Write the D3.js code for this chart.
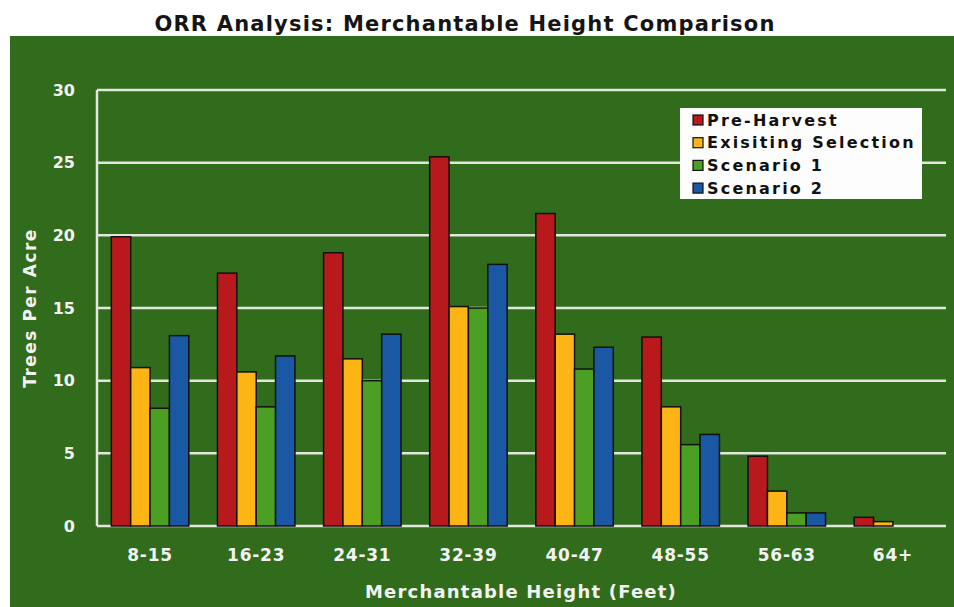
<!DOCTYPE html>
<html><head><meta charset="utf-8">
<script src="https://cdn.jsdelivr.net/npm/d3@7"></script>
<style>html,body{margin:0;padding:0;background:#fff;}svg{display:block;}</style>
</head><body>
<svg id="chart" width="954" height="607"></svg>
<script>
const categories = ["8-15","16-23","24-31","32-39","40-47","48-55","56-63","64+"];
const seriesNames = ["Pre-Harvest","Exisiting Selection","Scenario 1","Scenario 2"];
const preHarvest = [19.9, 17.4, 18.8, 25.4, 21.5, 13.0, 4.8, 0.6];
const existingSelection = [10.9, 10.6, 11.5, 15.1, 13.2, 8.2, 2.4, 0.3];
const scenario1 = [8.1, 8.2, 10.0, 15.0, 10.8, 5.6, 0.9, 0];
const scenario2 = [13.1, 11.7, 13.2, 18.0, 12.3, 6.3, 0.9, 0];
const yTicks = [0,5,10,15,20,25,30];
const colors = ["#b8191c","#fdb515","#4b9f22","#1a58a3"];

const series = [preHarvest, existingSelection, scenario1, scenario2];
const svg = d3.select("#chart");
const W = 954, H = 607;
const mLeft = 97, mRight = 946, mTop = 90, mBottom = 526;

// background
svg.append("rect").attr("x",0).attr("y",0).attr("width",W).attr("height",H).attr("fill","#fff");
svg.append("rect").attr("x",10).attr("y",36).attr("width",W-10).attr("height",H-36).attr("fill","#306c1c");

// title
svg.append("text").attr("x",465).attr("y",31).attr("text-anchor","middle")
  .attr("font-family","'DejaVu Sans', sans-serif").attr("font-size",21).attr("font-weight","bold")
  .attr("fill","#151515").attr("letter-spacing","1.2").text("ORR Analysis: Merchantable Height Comparison");

const x0 = d3.scaleBand().domain(categories).range([mLeft,mRight]).paddingInner(0.27).paddingOuter(0.135);
const x1 = d3.scaleBand().domain(d3.range(4)).range([0,x0.bandwidth()]);
const y = d3.scaleLinear().domain([0,30]).range([mBottom,mTop]);

// gridlines
svg.append("g").selectAll("line").data(yTicks).join("line")
  .attr("x1",mLeft).attr("x2",mRight).attr("y1",d=>y(d)).attr("y2",d=>y(d))
  .attr("stroke","#e2e6dc").attr("stroke-width",2.5);
// y axis line
svg.append("line").attr("x1",mLeft).attr("x2",mLeft).attr("y1",y(30)).attr("y2",y(0))
  .attr("stroke","#e2e6dc").attr("stroke-width",2.5);

// y tick labels
svg.append("g").selectAll("text").data(yTicks).join("text")
  .attr("x",75).attr("y",d=>y(d)).attr("dy","0.36em").attr("text-anchor","end")
  .attr("font-family","'DejaVu Sans', sans-serif").attr("font-size",16).attr("font-weight","bold")
  .attr("fill","#f2f2f2").text(d=>d);

// bars
const groups = svg.append("g").selectAll("g").data(categories).join("g")
  .attr("transform",d=>`translate(${x0(d)},0)`);
groups.selectAll("rect").data((d,i)=>series.map((s,k)=>({k, v:s[i]})).filter(e=>e.v>0)).join("rect")
  .attr("x",e=>x1(e.k)).attr("width",x1.bandwidth())
  .attr("y",e=>y(e.v)).attr("height",e=>y(0)-y(e.v))
  .attr("fill",e=>colors[e.k]).attr("stroke","#111").attr("stroke-width",1.5);

// x labels
svg.append("g").selectAll("text").data(categories).join("text")
  .attr("x",d=>x0(d)+x0.bandwidth()/2).attr("y",561).attr("text-anchor","middle")
  .attr("font-family","'DejaVu Sans', sans-serif").attr("font-size",17).attr("font-weight","bold")
  .attr("fill","#f2f2f2").attr("letter-spacing","0.8").text(d=>d);

// axis titles
svg.append("text").attr("x",521).attr("y",598).attr("text-anchor","middle")
  .attr("font-family","'DejaVu Sans', sans-serif").attr("font-size",18).attr("font-weight","bold")
  .attr("fill","#f2f2f2").attr("letter-spacing","1.2").text("Merchantable Height (Feet)");
svg.append("text").attr("transform","translate(36,308) rotate(-90)").attr("text-anchor","middle")
  .attr("font-family","'DejaVu Sans', sans-serif").attr("font-size",17).attr("font-weight","bold")
  .attr("fill","#f2f2f2").attr("letter-spacing","1.5").text("Trees Per Acre");

// legend
const lg = svg.append("g");
lg.append("rect").attr("x",680).attr("y",108).attr("width",242).attr("height",91).attr("fill","#fdfdfd");
const rows = lg.selectAll("g").data(seriesNames).join("g")
  .attr("transform",(d,i)=>`translate(693,${120 + i*22.7})`);
rows.append("rect").attr("x",0).attr("y",-5).attr("width",10).attr("height",10)
  .attr("fill",(d,i)=>colors[i]).attr("stroke","#111").attr("stroke-width",1.2);
rows.append("text").attr("x",14).attr("y",0).attr("dy","0.36em")
  .attr("font-family","'DejaVu Sans', sans-serif").attr("font-size",16).attr("font-weight","bold")
  .attr("fill","#111").attr("letter-spacing","2.2").text(d=>d);
</script>
</body></html>
